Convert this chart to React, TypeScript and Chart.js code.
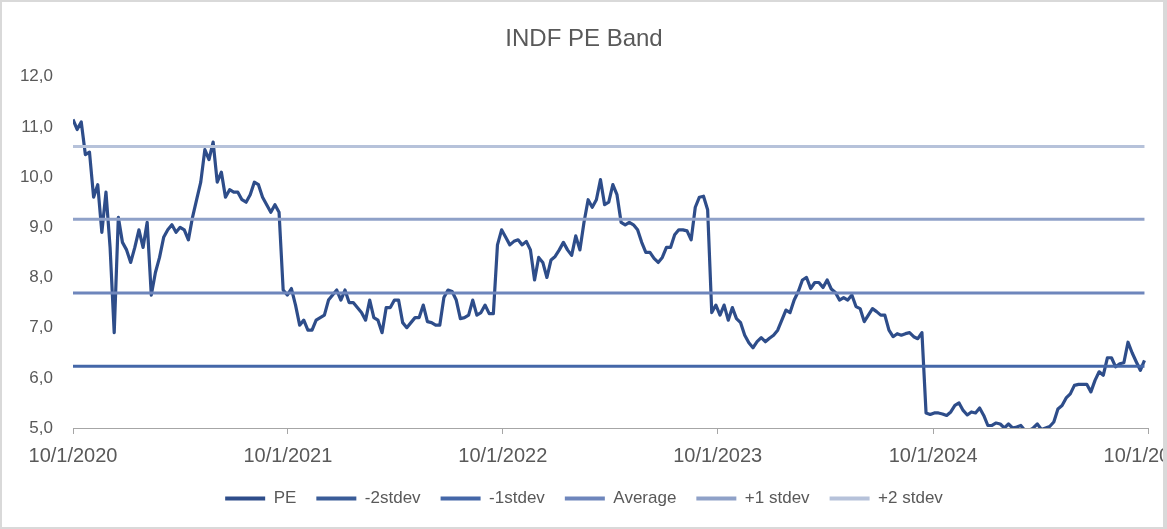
import React, { useEffect, useRef } from 'react';
import { Chart, registerables } from 'chart.js';

Chart.register(...registerables);

const TITLE = 'INDF PE Band';
const SERIES_LABEL = 'PE';
const START_DATE = Date.UTC(2020, 9, 1);
const END_DATE = Date.UTC(2025, 9, 1);
const WEEK_MS = 7 * 86400000;

const xTickDates = [
  Date.UTC(2020, 9, 1),
  Date.UTC(2021, 9, 1),
  Date.UTC(2022, 9, 1),
  Date.UTC(2023, 9, 1),
  Date.UTC(2024, 9, 1),
  Date.UTC(2025, 9, 1),
];
const Y_MIN = 5;
const Y_MAX = 12;
const Y_STEP = 1;

// weekly PE readings (from 10/1/2020)
const peYear1 = [
  11.15, 10.95, 11.1, 10.45, 10.5, 9.6, 9.85, 8.9, 9.7, 8.6, 6.9, 9.2, 8.7, 8.55, 8.3, 8.6, 8.95, 8.6, 9.1, 7.65,
  8.1, 8.4, 8.8, 8.95, 9.05, 8.9, 9.0, 8.95, 8.75, 9.2, 9.55, 9.9, 10.55, 10.35, 10.7, 9.9, 10.1, 9.6, 9.75, 9.7,
  9.7, 9.55, 9.5, 9.65, 9.9, 9.85, 9.6, 9.45, 9.3, 9.45, 9.3, 7.75, 7.65,
];
const peYear2 = [
  7.78, 7.45, 7.05, 7.15, 6.95, 6.95, 7.15, 7.2, 7.25, 7.55, 7.65, 7.75, 7.55, 7.75, 7.5, 7.5, 7.4, 7.3, 7.15, 7.55,
  7.2, 7.15, 6.9, 7.4, 7.4, 7.55, 7.55, 7.1, 7.0, 7.1, 7.2, 7.2, 7.45, 7.12, 7.1, 7.05, 7.05, 7.6, 7.75, 7.72,
  7.55, 7.18, 7.2, 7.25, 7.55, 7.25, 7.3, 7.45, 7.28, 7.28, 8.65, 8.95,
];
const peYear3 = [
  8.8, 8.65, 8.72, 8.75, 8.65, 8.72, 8.55, 7.95, 8.4, 8.3, 8.0, 8.35, 8.42, 8.55, 8.7, 8.55, 8.44, 8.83, 8.55, 9.1,
  9.55, 9.4, 9.55, 9.95, 9.45, 9.5, 9.85, 9.65, 9.1, 9.05, 9.1, 9.05, 8.95, 8.7, 8.5, 8.5, 8.38, 8.3, 8.4, 8.6,
  8.6, 8.85, 8.95, 8.95, 8.93, 8.75, 9.4, 9.6, 9.62, 9.35, 7.3, 7.45,
];
const peYear4 = [
  7.25, 7.45, 7.15, 7.4, 7.18, 7.1, 6.85, 6.7, 6.6, 6.72, 6.8, 6.72, 6.79, 6.85, 6.95, 7.15, 7.35, 7.3, 7.55, 7.72,
  7.95, 8.0, 7.78, 7.9, 7.9, 7.8, 7.95, 7.77, 7.7, 7.55, 7.6, 7.55, 7.65, 7.42, 7.38, 7.12, 7.25, 7.38, 7.32, 7.25,
  7.25, 6.95, 6.82, 6.88, 6.85, 6.88, 6.9, 6.82, 6.78, 6.9, 5.3, 5.27,
];
const peYear5 = [
  5.3, 5.3, 5.28, 5.25, 5.32, 5.45, 5.5, 5.35, 5.26, 5.32, 5.3, 5.4, 5.25, 5.05, 5.05, 5.1, 5.08, 5.0, 5.08, 5.0,
  5.02, 5.05, 4.95, 4.95, 5.0, 5.08, 4.97, 5.0, 5.03, 5.12, 5.38, 5.45, 5.6, 5.68, 5.85, 5.87, 5.87, 5.87, 5.72, 5.95,
  6.12, 6.05, 6.4, 6.4, 6.22, 6.28, 6.3, 6.71, 6.5, 6.32, 6.15, 6.35,
];

const bandLabels = ['-2stdev', '-1stdev', 'Average', '+1 stdev', '+2 stdev'];
const bandValues = [4.77, 6.23, 7.69, 9.16, 10.61];

const PE_COLOR = '#2E4D8A';
const bandColors = ['#3A5C98', '#4467A8', '#6E86BC', '#8FA1C8', '#B6C2DA'];
const TEXT_COLOR = '#595959';
const FONT = '"Liberation Sans", Arial, sans-serif';

function fmtDate(v: number): string {
  const d = new Date(v);
  return `${d.getUTCMonth() + 1}/${d.getUTCDate()}/${d.getUTCFullYear()}`;
}

export default function App() {
  const canvasRef = useRef<HTMLCanvasElement | null>(null);

  useEffect(() => {
    if (!canvasRef.current) return;
    const pe = [...peYear1, ...peYear2, ...peYear3, ...peYear4, ...peYear5];
    const peData = pe.map((y, i) => ({ x: START_DATE + i * WEEK_MS, y }));
    const lastX = START_DATE + (pe.length - 1) * WEEK_MS;

    const datasets: any[] = [
      {
        label: SERIES_LABEL,
        data: peData,
        borderColor: PE_COLOR,
        backgroundColor: PE_COLOR,
        borderWidth: 3.2,
        pointRadius: 0,
        tension: 0,
        borderJoinStyle: 'round',
        order: 10,
      },
      ...bandLabels.map((label, k) => ({
        label,
        data: [
          { x: START_DATE, y: bandValues[k] },
          { x: lastX, y: bandValues[k] },
        ],
        borderColor: bandColors[k],
        backgroundColor: bandColors[k],
        borderWidth: 3,
        pointRadius: 0,
        tension: 0,
        order: 5 - k,
      })),
    ];

    const chart = new Chart(canvasRef.current, {
      type: 'line',
      data: { datasets },
      options: {
        animation: false,
        responsive: false,
        maintainAspectRatio: false,
        devicePixelRatio: 1,
        layout: { padding: { left: 18, right: 15, top: 0, bottom: 10 } },
        plugins: {
          title: {
            display: true,
            text: TITLE,
            color: TEXT_COLOR,
            font: { family: FONT, size: 24, weight: 'normal' },
            padding: { top: 23, bottom: 23 },
          },
          legend: {
            display: true,
            position: 'bottom',
            labels: {
              boxWidth: 40,
              boxHeight: 4,
              padding: 20,
              color: TEXT_COLOR,
              font: { family: FONT, size: 17 },
              sort: (a: any, b: any) => a.datasetIndex - b.datasetIndex,
              generateLabels: (c: any) =>
                c.data.datasets.map((ds: any, i: number) => ({
                  text: ds.label,
                  fillStyle: ds.borderColor,
                  strokeStyle: ds.borderColor,
                  lineWidth: 0,
                  hidden: false,
                  datasetIndex: i,
                  fontColor: TEXT_COLOR,
                })),
            },
          },
          tooltip: { enabled: false },
        },
        scales: {
          x: {
            type: 'linear',
            min: START_DATE,
            max: END_DATE,
            afterBuildTicks: (scale: any) => {
              scale.ticks = xTickDates.map((v) => ({ value: v }));
            },
            afterFit: (scale: any) => {
              scale.paddingLeft = 0;
              scale.paddingRight = 0;
              scale.height = 42;
            },
            ticks: {
              autoSkip: false,
              maxRotation: 0,
              minRotation: 0,
              padding: 10,
              color: TEXT_COLOR,
              font: { family: FONT, size: 20 },
              callback: (v: any) => fmtDate(Number(v)),
            },
            grid: {
              display: true,
              drawOnChartArea: false,
              drawTicks: true,
              tickLength: 6,
              color: '#A6A6A6',
            },
            border: { display: true, color: '#A6A6A6', width: 1 },
          },
          y: {
            type: 'linear',
            min: Y_MIN,
            max: Y_MAX,
            afterFit: (scale: any) => {
              scale.width = 53;
            },
            ticks: {
              stepSize: Y_STEP,
              padding: 20,
              color: TEXT_COLOR,
              font: { family: FONT, size: 17 },
              callback: (v: any) => Number(v).toFixed(1).replace('.', ','),
            },
            grid: { display: false, drawTicks: false },
            border: { display: false },
          },
        },
      },
    });
    return () => chart.destroy();
  }, []);

  return (
    <div
      style={{
        position: 'absolute',
        left: 0,
        top: 0,
        width: 1167,
        height: 529,
        boxSizing: 'border-box',
        borderStyle: 'solid',
        borderColor: '#D9D9D9',
        borderWidth: '2px 4px 2px 2px',
        background: '#ffffff',
        overflow: 'hidden',
      }}
    >
      <canvas ref={canvasRef} width={1161} height={525} style={{ display: 'block' }} />
    </div>
  );
}
